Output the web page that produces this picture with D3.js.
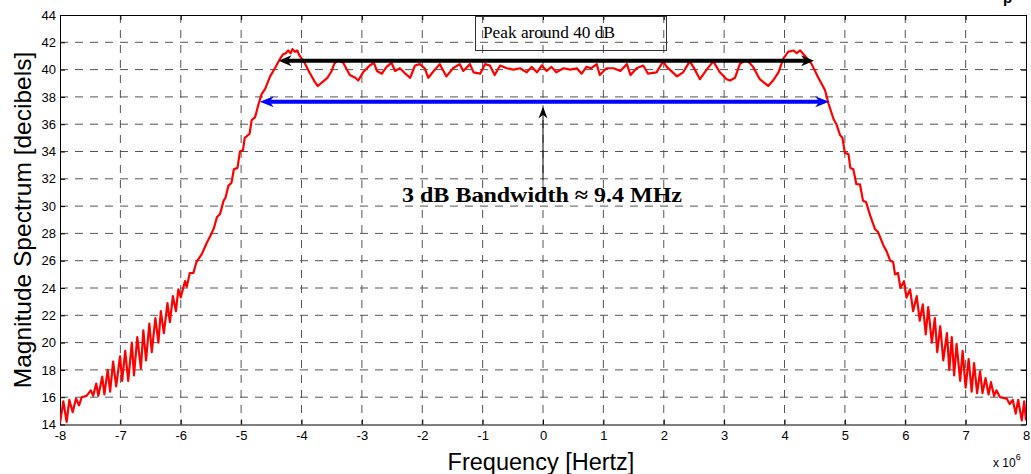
<!doctype html>
<html lang="en">
<head>
  <meta charset="utf-8">
  <title>Magnitude Spectrum</title>
  <script src="https://cdn.jsdelivr.net/npm/d3@7"></script>
  <style>
    body { margin: 0; background: #fff; }
    svg { display: block; }
    .tick text { font-family: "Liberation Sans", Arial, sans-serif; font-size: 13px; fill: #000; }
    .axis path, .axis line { stroke: #000; }
    .grid line { stroke: #555; stroke-width: 1; stroke-dasharray: 8,7; }
  </style>
</head>
<body>
<div id="chart"></div>

<script>

// frequency in MHz (axis is Hz x 10^6) and magnitude in dB
var freqMHz = [
  -8.00, -7.945, -7.89, -7.845, -7.79, -7.735, -7.685, -7.64, -7.56, -7.49,
  -7.45, -7.40, -7.365, -7.30, -7.265, -7.21, -7.17, -7.12, -7.07, -7.005,
  -6.97, -6.92, -6.87, -6.81, -6.775, -6.72, -6.66, -6.62, -6.575, -6.52,
  -6.48, -6.42, -6.37, -6.33, -6.28, -6.22, -6.18, -6.13, -6.08, -6.04,
  -6.00, -5.93, -5.90, -5.85, -5.79, -5.74, -5.65, -5.57, -5.49, -5.45,
  -5.40, -5.35, -5.29, -5.26, -5.21, -5.16, -5.12, -5.06, -5.02, -4.97,
  -4.94, -4.86, -4.825, -4.77, -4.71, -4.66, -4.60, -4.52, -4.44, -4.38,
  -4.31, -4.26, -4.22, -4.18, -4.15, -4.11, -4.07, -4.03, -3.95, -3.87,
  -3.78, -3.73, -3.65, -3.57, -3.50, -3.46, -3.40, -3.31, -3.20, -3.11,
  -3.06, -2.98, -2.87, -2.80, -2.75, -2.67, -2.59, -2.51, -2.45, -2.37,
  -2.28, -2.20, -2.12, -2.04, -1.96, -1.90, -1.81, -1.71, -1.60, -1.49,
  -1.38, -1.32, -1.21, -1.15, -1.04, -0.96, -0.88, -0.80, -0.71, -0.60,
  -0.49, -0.38, -0.27, -0.19, -0.10, -0.02, 0.06, 0.14, 0.22, 0.34,
  0.45, 0.56, 0.64, 0.72, 0.80, 0.89, 0.94, 1.05, 1.17, 1.28,
  1.39, 1.45, 1.55, 1.66, 1.74, 1.88, 1.99, 2.05, 2.22, 2.32,
  2.43, 2.49, 2.60, 2.71, 2.82, 2.93, 3.04, 3.10, 3.18, 3.26,
  3.35, 3.42, 3.48, 3.59, 3.73, 3.81, 3.90, 3.98, 4.06, 4.15,
  4.20, 4.26, 4.34, 4.45, 4.56, 4.67, 4.73, 4.81, 4.86, 4.92,
  4.96, 5.00, 5.06, 5.09, 5.14, 5.19, 5.25, 5.30, 5.35, 5.42,
  5.50, 5.55, 5.64, 5.69, 5.75, 5.80, 5.83, 5.88, 5.92, 5.98,
  6.02, 6.08, 6.13, 6.19, 6.24, 6.29, 6.34, 6.38, 6.44, 6.49,
  6.53, 6.58, 6.63, 6.69, 6.73, 6.77, 6.81, 6.85, 6.91, 6.95,
  7.00, 7.05, 7.10, 7.14, 7.19, 7.24, 7.28, 7.33, 7.38, 7.42,
  7.47, 7.51, 7.57, 7.68, 7.73, 7.78, 7.83, 7.87, 7.93, 7.97,
  8.00
];

var magDb = [
  14.1, 15.7, 14.2, 15.8, 14.9, 15.9, 15.4, 16.0, 16.1, 16.5,
  16.1, 17.0, 16.1, 17.5, 16.2, 18.0, 16.4, 18.6, 16.8, 19.0,
  17.2, 19.4, 17.2, 20.0, 17.6, 20.4, 18.1, 20.9, 18.7, 21.4,
  19.3, 21.8, 20.0, 22.3, 20.7, 22.9, 21.5, 23.4, 22.3, 23.9,
  23.3, 24.5, 24.1, 25.1, 25.1, 25.9, 26.5, 27.3, 28.0, 28.4,
  29.2, 29.4, 30.4, 30.6, 31.5, 31.7, 32.7, 32.8, 34.0, 34.1,
  35.0, 35.3, 36.3, 36.5, 37.5, 38.2, 38.6, 39.5, 40.1, 40.6,
  41.1, 41.2, 41.4, 41.2, 41.5, 41.3, 41.4, 41.0, 40.5, 39.8,
  39.1, 38.8, 39.1, 39.4, 39.9, 40.4, 40.7, 40.5, 39.6, 39.4,
  39.2, 39.8, 40.3, 40.5, 39.9, 39.7, 40.2, 40.5, 39.9, 40.1,
  39.7, 39.4, 40.3, 40.4, 40.1, 39.4, 39.9, 40.4, 39.5, 40.1,
  40.4, 39.9, 40.4, 39.8, 39.7, 40.4, 40.3, 39.6, 40.3, 40.1,
  40.0, 40.1, 39.8, 40.2, 39.8, 40.3, 39.9, 40.2, 39.8, 40.1,
  40.0, 40.1, 39.7, 40.2, 40.1, 40.4, 39.6, 40.1, 40.1, 39.9,
  40.4, 39.6, 40.1, 40.3, 39.7, 39.8, 40.6, 40.2, 39.5, 39.8,
  40.6, 40.2, 39.3, 40.0, 40.6, 39.8, 39.3, 39.2, 39.4, 40.4,
  40.7, 40.5, 40.2, 39.3, 38.8, 39.2, 39.8, 40.8, 41.3, 41.4,
  41.2, 41.4, 41.0, 40.4, 39.4, 38.5, 37.5, 36.4, 36.0, 35.2,
  35.0, 33.9, 33.8, 32.8, 32.7, 31.6, 31.6, 30.4, 30.3, 29.3,
  28.3, 28.1, 27.1, 26.7, 26.0, 25.9, 25.0, 25.1, 24.0, 24.5,
  23.3, 23.9, 22.3, 23.4, 21.6, 22.8, 20.6, 22.6, 20.0, 21.8,
  19.3, 21.2, 18.7, 20.7, 18.0, 20.4, 17.6, 19.9, 17.2, 19.4,
  16.7, 18.8, 16.4, 18.5, 16.3, 17.9, 16.3, 17.4, 16.2, 17.1,
  16.1, 16.5, 16.0, 15.9, 15.5, 15.8, 14.8, 15.8, 14.3, 15.7,
  14.3
];

var xTicks = [-8, -7, -6, -5, -4, -3, -2, -1, 0, 1, 2, 3, 4, 5, 6, 7, 8];
var yTicks = [14, 16, 18, 20, 22, 24, 26, 28, 30, 32, 34, 36, 38, 40, 42, 44];

// annotations: [x1, x2, y] in data units
var peakArrow = [-4.38, 4.49, 40.65];
var bandArrow = [-4.69, 4.74, 37.65];
var pointerArrow = [0, 31.9, 37.3];   // x, tail y, tip y
var peakLabel = "Peak around 40 dB";
var bandLabel = "3 dB Bandwidth \u2248 9.4 MHz";

var W = 1031, H = 474;
var mLeft = 60, mRight = 1026, mTop = 15, mBottom = 424.5;

var svg = d3.select("#chart").append("svg")
    .attr("width", W)
    .attr("height", H);

var x = d3.scaleLinear().domain([-8, 8]).range([mLeft, mRight]);
var y = d3.scaleLinear().domain([14, 44]).range([mBottom, mTop]);
var plain = function(d) { return String(d); };

// grid
var grid = svg.append("g").attr("class", "grid");
grid.selectAll(".gx").data(xTicks.slice(1, -1)).enter().append("line")
    .attr("x1", function(d) { return x(d); })
    .attr("x2", function(d) { return x(d); })
    .attr("y1", mTop).attr("y2", mBottom);
grid.selectAll(".gy").data(yTicks.slice(1, -1)).enter().append("line")
    .attr("x1", mLeft).attr("x2", mRight)
    .attr("y1", function(d) { return y(d); })
    .attr("y2", function(d) { return y(d); });

// axes, ticks pointing inward
svg.append("g").attr("class", "axis")
    .attr("transform", "translate(0," + mBottom + ")")
    .call(d3.axisBottom(x).tickValues(xTicks).tickFormat(plain).tickSizeInner(-5).tickSizeOuter(0).tickPadding(6));
svg.append("g").attr("class", "axis")
    .attr("transform", "translate(0," + mTop + ")")
    .call(d3.axisTop(x).tickValues(xTicks).tickSizeInner(-5).tickSizeOuter(0).tickFormat(""));
svg.append("g").attr("class", "axis")
    .attr("transform", "translate(" + mLeft + ",0)")
    .call(d3.axisLeft(y).tickValues(yTicks).tickFormat(plain).tickSizeInner(-5).tickSizeOuter(0).tickPadding(4));
svg.append("g").attr("class", "axis")
    .attr("transform", "translate(" + mRight + ",0)")
    .call(d3.axisRight(y).tickValues(yTicks).tickSizeInner(-5).tickSizeOuter(0).tickFormat(""));

// spectrum
svg.append("defs").append("clipPath").attr("id", "plotclip")
  .append("rect").attr("x", mLeft).attr("y", mTop).attr("width", mRight - mLeft).attr("height", mBottom - mTop);

var line = d3.line()
    .x(function(d, i) { return x(freqMHz[i]); })
    .y(function(d) { return y(d); });

svg.append("path")
    .datum(magDb)
    .attr("clip-path", "url(#plotclip)")
    .attr("fill", "none")
    .attr("stroke", "#ff0000")
    .attr("stroke-width", 2.2)
    .attr("stroke-linejoin", "round")
    .attr("d", line);

// arrowhead with a notched back, tip at (tx,ty) pointing along angle a
function head(g, tx, ty, a, len, hw, color) {
  var c = Math.cos(a), s = Math.sin(a);
  var pt = function(u, v) { return [tx - u * c - v * s, ty - u * s + v * c]; };
  var p = [pt(0, 0), pt(len, -hw), pt(len * 0.7, 0), pt(len, hw)];
  g.append("path")
    .attr("d", "M" + p.map(function(q) { return q.join(","); }).join("L") + "Z")
    .attr("fill", color);
}

function hArrow(vals, color, width, len, hw) {
  var g = svg.append("g");
  var x1 = x(vals[0]), x2 = x(vals[1]), yy = y(vals[2]);
  g.append("line")
    .attr("x1", x1 + len * 0.7).attr("x2", x2 - len * 0.7)
    .attr("y1", yy).attr("y2", yy)
    .attr("stroke", color).attr("stroke-width", width);
  head(g, x1, yy, Math.PI, len, hw, color);
  head(g, x2, yy, 0, len, hw, color);
}

hArrow(peakArrow, "#000", 4, 13, 5.5);
hArrow(bandArrow, "#0000ff", 4, 14, 5.5);

var pg = svg.append("g");
pg.append("line")
  .attr("x1", x(pointerArrow[0])).attr("x2", x(pointerArrow[0]))
  .attr("y1", y(pointerArrow[1])).attr("y2", y(pointerArrow[2]) + 8)
  .attr("stroke", "#000").attr("stroke-width", 1);
head(pg, x(pointerArrow[0]), y(pointerArrow[2]), -Math.PI / 2, 12, 4.5, "#000");

// text box
svg.append("rect")
  .attr("x", 475.5).attr("y", 16.5).attr("width", 191).attr("height", 34)
  .attr("fill", "none").attr("stroke", "#333").attr("stroke-width", 1);
svg.append("text")
  .attr("x", 483).attr("y", 38)
  .attr("textLength", 132).attr("lengthAdjust", "spacingAndGlyphs")
  .style("font-family", "'Liberation Serif', 'Times New Roman', serif")
  .style("font-size", "16px")
  .text(peakLabel);

svg.append("text")
  .attr("x", 402).attr("y", 202)
  .attr("textLength", 280).attr("lengthAdjust", "spacingAndGlyphs")
  .style("font-family", "'Liberation Serif', 'Times New Roman', serif")
  .style("font-size", "21px")
  .style("font-weight", "bold")
  .text(bandLabel);

// axis labels
svg.append("text")
  .attr("transform", "translate(31,220) rotate(-90)")
  .attr("text-anchor", "middle")
  .style("font-family", "'Liberation Sans', Arial, sans-serif")
  .style("font-size", "24.5px")
  .text("Magnitude Spectrum [decibels]");

svg.append("text")
  .attr("x", 541).attr("y", 470)
  .attr("text-anchor", "middle")
  .style("font-family", "'Liberation Sans', Arial, sans-serif")
  .style("font-size", "23.5px")
  .text("Frequency [Hertz]");

var ex = svg.append("text")
  .attr("x", 993).attr("y", 467)
  .style("font-family", "'Liberation Sans', Arial, sans-serif")
  .style("font-size", "12px");
ex.append("tspan").text("x 10");
ex.append("tspan").attr("dy", -7).style("font-size", "9px").text("6");

// clipped title remnant at top right
svg.append("text")
  .attr("x", 1003).attr("y", 3)
  .style("font-family", "'Liberation Sans', Arial, sans-serif")
  .style("font-size", "15px")
  .style("font-weight", "bold")
  .text("p");

</script>
</body>
</html>
